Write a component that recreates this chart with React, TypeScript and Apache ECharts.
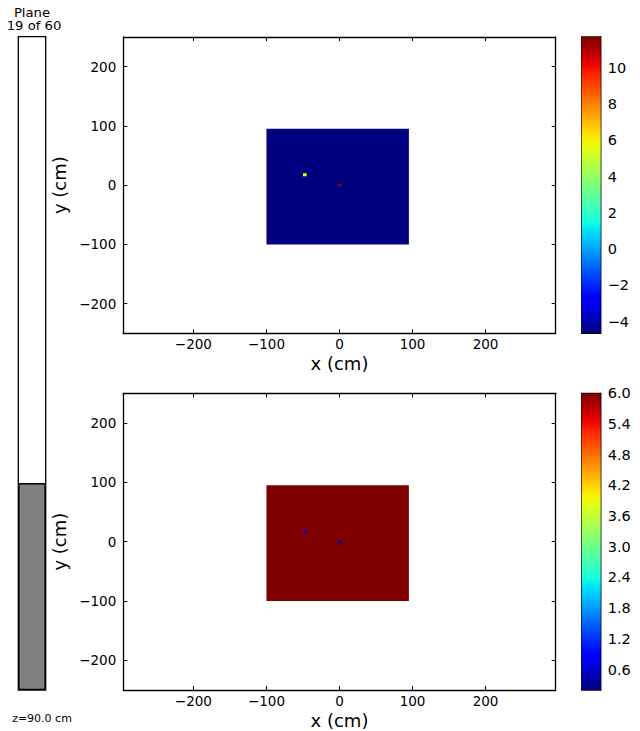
import React, { useEffect, useRef } from 'react';
import * as echarts from 'echarts';

// ---- data ----
const axisTickValues = [-200, -100, 0, 100, 200];
const xRange = [-296, 296];
const yRange = [-250, 250];
const CELL = 5;

const topRegion = [-100, 95, -100, 95]; // x0, x1, y0, y1
const topBackground = -4.64;
const topCells = [
  [-47.5, 17.5, 5.8],
  [0, 0, 11.71],
];
const topRange = [-4.64, 11.71];
const topColorTicks = [-4, -2, 0, 2, 4, 6, 8, 10];

const bottomRegion = [-100, 95, -100, 95];
const bottomBackground = 6.0;
const bottomCells = [
  [-47.5, 17.5, 0.78],
  [0, 0, 0.5],
];
const bottomRange = [0.2, 6.0];
const bottomColorTicks = [0.6, 1.2, 1.8, 2.4, 3.0, 3.6, 4.2, 4.8, 5.4, 6.0];

const planeIndex = 19;
const planeCount = 60;
const zPosition = '90.0';

// ---- style helpers ----
const FONT = 'DejaVu Sans';
const LINE_W = 1.3;

const R = [[0, 0], [0.35, 0], [0.66, 1], [0.89, 1], [1, 0.5]];
const G = [[0, 0], [0.125, 0], [0.375, 1], [0.64, 1], [0.91, 0], [1, 0]];
const B = [[0, 0.5], [0.11, 1], [0.34, 1], [0.65, 0], [1, 0]];
function interp(pts: number[][], t: number) {
  if (t <= pts[0][0]) return pts[0][1];
  for (let i = 1; i < pts.length; i++) {
    if (t <= pts[i][0]) {
      const [t0, v0] = pts[i - 1];
      const [t1, v1] = pts[i];
      return v0 + ((v1 - v0) * (t - t0)) / (t1 - t0);
    }
  }
  return pts[pts.length - 1][1];
}
function jet(t: number) {
  const c = Math.max(0, Math.min(1, t));
  const r = Math.round(interp(R, c) * 255);
  const g = Math.round(interp(G, c) * 255);
  const b = Math.round(interp(B, c) * 255);
  return `rgb(${r},${g},${b})`;
}

const fmt = (v: number) => (v < 0 ? '\u2212' + Math.abs(v) : String(v));

function buildCells(region: number[], bg: number, cells: number[][]) {
  const out: number[][] = [[region[0], region[1], region[2], region[3], bg]];
  cells.forEach(([cx, cy, v]) => {
    out.push([cx - CELL / 2, cx + CELL / 2, cy - CELL / 2, cy + CELL / 2, v]);
  });
  return out;
}

function heatSeries(axisIdx: number, data: number[][], range: number[]) {
  return {
    type: 'custom',
    xAxisIndex: axisIdx,
    yAxisIndex: axisIdx,
    data,
    clip: true,
    encode: { x: [0, 1], y: [2, 3] },
    renderItem: (params: any, api: any) => {
      const p0 = api.coord([api.value(0), api.value(3)]);
      const p1 = api.coord([api.value(1), api.value(2)]);
      const v = api.value(4);
      return {
        type: 'rect',
        shape: { x: p0[0], y: p0[1], width: p1[0] - p0[0], height: p1[1] - p0[1] },
        style: { fill: jet((v - range[0]) / (range[1] - range[0])) },
      };
    },
  };
}

function colorbarSeries(axisIdx: number, range: number[]) {
  const stops = [];
  for (let i = 0; i <= 40; i++) {
    const t = i / 40;
    stops.push({ offset: t, color: jet(1 - t) });
  }
  return {
    type: 'custom',
    xAxisIndex: axisIdx,
    yAxisIndex: axisIdx,
    data: [[0, range[0], 1, range[1]]],
    clip: true,
    encode: { x: [0, 2], y: [1, 3] },
    renderItem: (params: any, api: any) => {
      const p0 = api.coord([api.value(0), api.value(3)]);
      const p1 = api.coord([api.value(2), api.value(1)]);
      return {
        type: 'rect',
        shape: { x: p0[0], y: p0[1], width: p1[0] - p0[0], height: p1[1] - p0[1] },
        style: { fill: new echarts.graphic.LinearGradient(0, 0, 0, 1, stops) },
      };
    },
  };
}

const lineStyle = { color: '#000', width: LINE_W };

function mainAxes(gridIndex: number) {
  const common = {
    gridIndex,
    type: 'value',
    splitLine: { show: false },
  };
  const tickLabel = {
    customValues: axisTickValues,
    formatter: fmt,
    color: '#000',
    fontSize: 13.5,
    fontFamily: FONT,
  };
  const tick = { show: true, inside: true, length: 4, customValues: axisTickValues, lineStyle: { color: '#000', width: 1 } };
  const nameStyle = { color: '#000', fontSize: 18, fontFamily: FONT };
  const xAxes = [
    {
      ...common,
      min: xRange[0],
      max: xRange[1],
      position: 'bottom',
      axisLine: { show: true, onZero: false, lineStyle },
      axisTick: tick,
      axisLabel: { ...tickLabel, margin: 4 },
      name: 'x (cm)',
      nameLocation: 'middle',
      nameGap: 21,
      nameTextStyle: nameStyle,
    },
    {
      ...common,
      min: xRange[0],
      max: xRange[1],
      position: 'top',
      axisLine: { show: true, onZero: false, lineStyle },
      axisTick: tick,
      axisLabel: { show: false },
    },
  ];
  const yAxes = [
    {
      ...common,
      min: yRange[0],
      max: yRange[1],
      position: 'left',
      axisLine: { show: true, onZero: false, lineStyle },
      axisTick: tick,
      axisLabel: { ...tickLabel, margin: 7 },
      name: 'y (cm)',
      nameLocation: 'middle',
      nameRotate: 90,
      nameGap: 52,
      nameTextStyle: nameStyle,
    },
    {
      ...common,
      min: yRange[0],
      max: yRange[1],
      position: 'right',
      axisLine: { show: true, onZero: false, lineStyle },
      axisTick: tick,
      axisLabel: { show: false },
    },
  ];
  return { xAxes, yAxes };
}

function colorbarAxes(gridIndex: number, range: number[], ticks: number[], digits: number) {
  const x = {
    gridIndex,
    type: 'value',
    min: 0,
    max: 1,
    show: false,
  };
  const y = {
    gridIndex,
    type: 'value',
    min: range[0],
    max: range[1],
    position: 'right',
    splitLine: { show: false },
    axisLine: { show: true, onZero: false, lineStyle },
    axisTick: { show: true, inside: true, length: 4, customValues: ticks, lineStyle: { color: '#000', width: 1 } },
    axisLabel: {
      customValues: ticks,
      formatter: (v: number) => (digits > 0 ? (v < 0 ? '\u2212' : '') + Math.abs(v).toFixed(digits) : fmt(v)),
      color: '#000',
      fontSize: 14.5,
      fontFamily: FONT,
      margin: 7,
    },
  };
  return { x, y };
}

export default function App() {
  const ref = useRef<HTMLDivElement>(null);
  useEffect(() => {
    if (!ref.current) return;
    const chart = echarts.init(ref.current, undefined, { renderer: 'svg' });

    const m0 = mainAxes(0);
    const m1 = mainAxes(1);
    const c0 = colorbarAxes(2, topRange, topColorTicks, 0);
    const c1 = colorbarAxes(3, bottomRange, bottomColorTicks, 1);

    const border = { show: true, borderColor: '#000', borderWidth: LINE_W, backgroundColor: 'transparent' };

    const option: any = {
      animation: false,
      backgroundColor: '#fff',
      grid: [
        { left: 123.3, top: 37, width: 432.4, height: 296.3 },
        { left: 123.3, top: 393.3, width: 432.4, height: 296.7 },
        { left: 581.7, top: 37, width: 19, height: 296.3, ...border },
        { left: 581.7, top: 393.3, width: 19, height: 296.7, ...border },
        { left: 18.3, top: 36.7, width: 27.4, height: 653.3, ...border },
      ],
      xAxis: [
        m0.xAxes[0],
        m0.xAxes[1],
        m1.xAxes[0],
        m1.xAxes[1],
        c0.x,
        c1.x,
        { gridIndex: 4, type: 'category', data: ['plane'], show: false },
      ],
      yAxis: [
        m0.yAxes[0],
        m0.yAxes[1],
        m1.yAxes[0],
        m1.yAxes[1],
        c0.y,
        c1.y,
        { gridIndex: 4, type: 'value', min: 0, max: planeCount, show: false },
      ],
      series: [
        heatSeries(0, buildCells(topRegion, topBackground, topCells), topRange),
        heatSeries(2, buildCells(bottomRegion, bottomBackground, bottomCells), bottomRange),
        colorbarSeries(4, topRange),
        colorbarSeries(5, bottomRange),
        {
          type: 'bar',
          xAxisIndex: 6,
          yAxisIndex: 6,
          data: [planeIndex],
          barWidth: '100%',
          itemStyle: { color: '#808080', borderColor: '#000', borderWidth: LINE_W },
        },
      ],
      graphic: [
        {
          type: 'text',
          x: 32,
          y: 13,
          scaleX: 1.15,
          style: { text: 'Plane', align: 'center', verticalAlign: 'middle', fontSize: 11.5, lineHeight: 12, fontFamily: FONT, fill: '#000' },
        },
        {
          type: 'text',
          x: 34,
          y: 26,
          scaleX: 1.15,
          style: { text: `${planeIndex} of ${planeCount}`, align: 'center', verticalAlign: 'middle', fontSize: 11.5, lineHeight: 12, fontFamily: FONT, fill: '#000' },
        },
        {
          type: 'text',
          x: 42,
          y: 718,
          style: { text: `z=${zPosition} cm`, align: 'center', verticalAlign: 'middle', fontSize: 11, fontFamily: FONT, fill: '#000' },
        },
      ],
    };
    chart.setOption(option);
    return () => chart.dispose();
  }, []);
  return (
    <div
      ref={ref}
      style={{ position: 'absolute', left: 0, top: 0, width: 640, height: 731, background: '#fff' }}
    />
  );
}
